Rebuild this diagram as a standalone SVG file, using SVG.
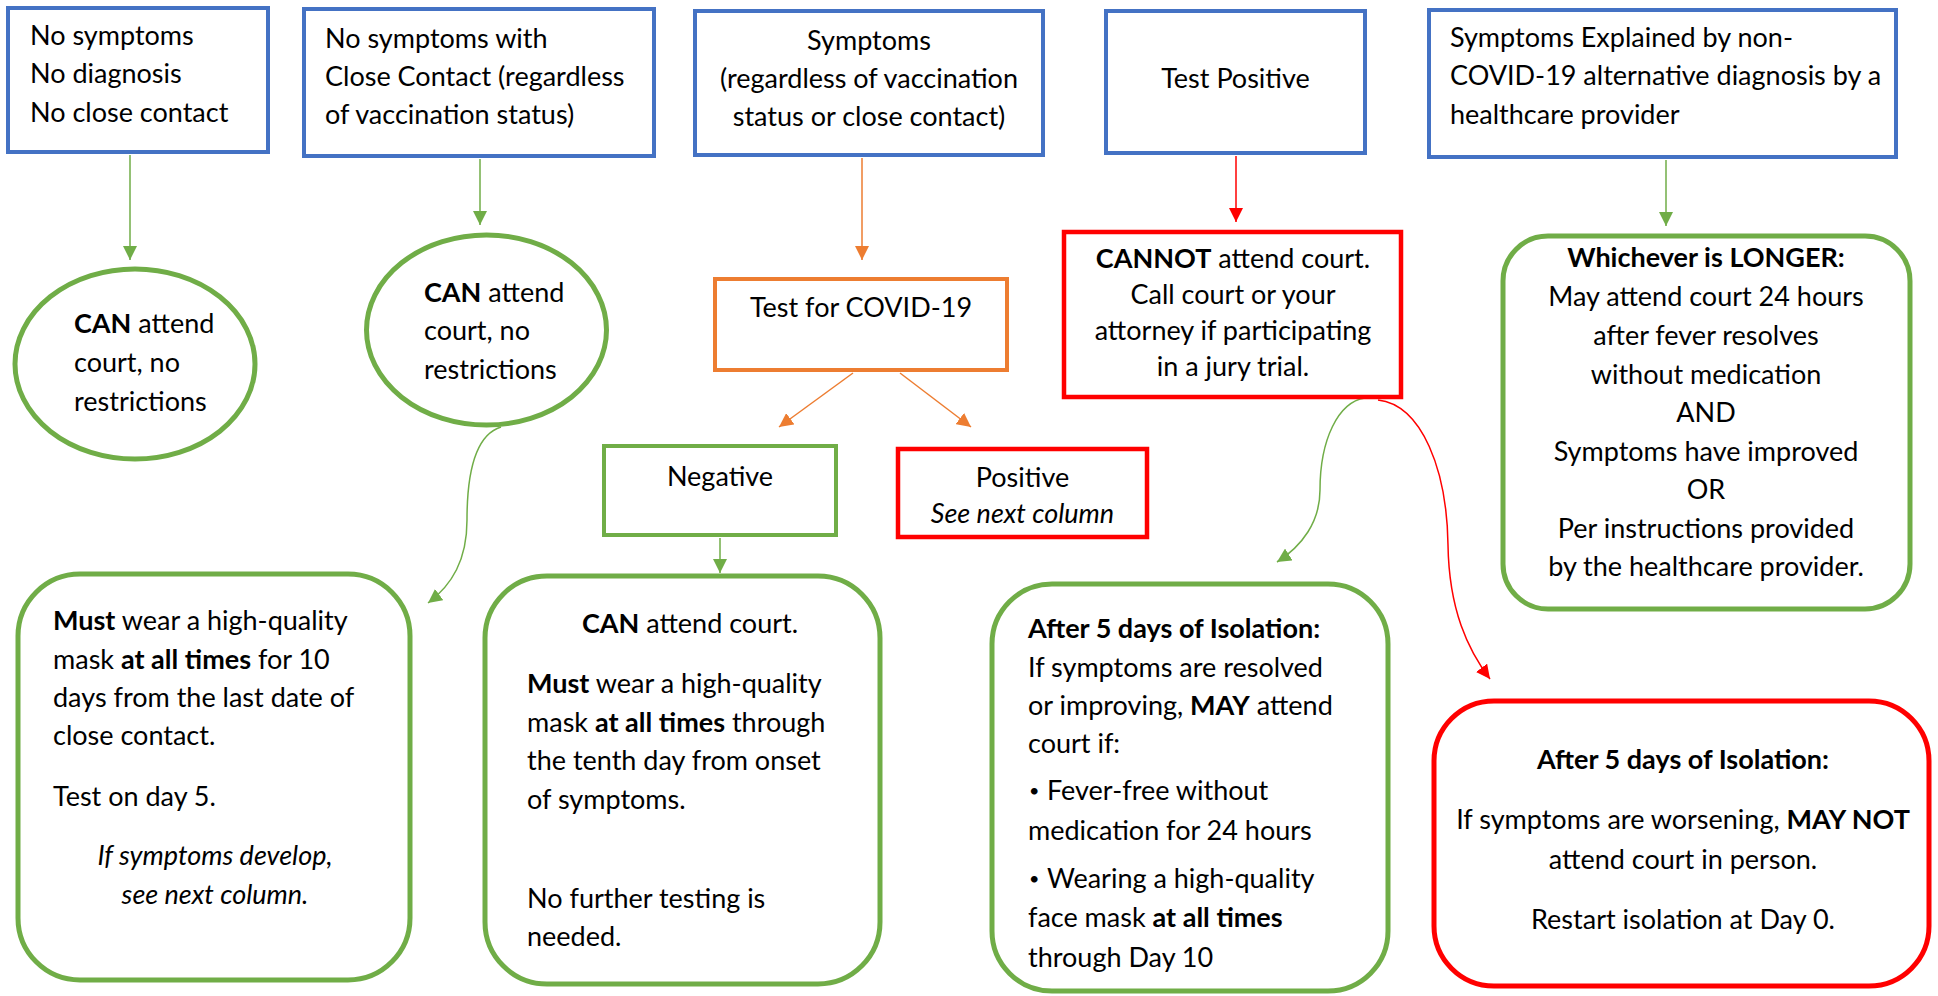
<svg xmlns="http://www.w3.org/2000/svg" width="1938" height="996" viewBox="0 0 1938 996">
<style>
text{font-family:Lato,"Liberation Sans",sans-serif;font-size:27px;fill:#000}
.c{text-anchor:middle}
.b{font-weight:bold}
.i{font-style:italic}
.dot{font-size:18px}
.blue{fill:#fff;stroke:#4472C4;stroke-width:4}
.grn{fill:#fff;stroke:#70AD47;stroke-width:5}
.grn4{fill:#fff;stroke:#70AD47;stroke-width:4}
.red{fill:#fff;stroke:#FF0000;stroke-width:5}
.org{fill:#fff;stroke:#ED7D31;stroke-width:4}
.lg{fill:none;stroke:#70AD47;stroke-width:1.5}
.lr{fill:none;stroke:#FF0000;stroke-width:1.5}
.lo{fill:none;stroke:#ED7D31;stroke-width:1.5}
</style>
<defs>
<marker id="ag" viewBox="0 0 14 14" refX="14" refY="7" markerWidth="14" markerHeight="14" markerUnits="userSpaceOnUse" orient="auto"><path d="M0,0L14,7L0,14z" fill="#70AD47"/></marker>
<marker id="ar" viewBox="0 0 14 14" refX="14" refY="7" markerWidth="14" markerHeight="14" markerUnits="userSpaceOnUse" orient="auto"><path d="M0,0L14,7L0,14z" fill="#FF0000"/></marker>
<marker id="ao" viewBox="0 0 14 14" refX="14" refY="7" markerWidth="14" markerHeight="14" markerUnits="userSpaceOnUse" orient="auto"><path d="M0,0L14,7L0,14z" fill="#ED7D31"/></marker>
</defs>
<rect width="1938" height="996" fill="#fff"/>

<g id="connectors">
<line class="lg" x1="130" y1="155" x2="130" y2="260" marker-end="url(#ag)"/>
<line class="lg" x1="480" y1="159" x2="480" y2="225" marker-end="url(#ag)"/>
<line class="lo" x1="862" y1="158" x2="862" y2="260" marker-end="url(#ao)"/>
<line class="lr" x1="1236" y1="156" x2="1236" y2="222" marker-end="url(#ar)"/>
<line class="lg" x1="1666" y1="160" x2="1666" y2="226" marker-end="url(#ag)"/>
<line class="lo" x1="853" y1="373" x2="779" y2="427" marker-end="url(#ao)"/>
<line class="lo" x1="900" y1="373" x2="971" y2="427" marker-end="url(#ao)"/>
<line class="lg" x1="720" y1="538" x2="720" y2="573" marker-end="url(#ag)"/>
<path class="lg" d="M501,427 C475,435 467,475 467,520 C467,560 452,585 428,603" marker-end="url(#ag)"/>
<path class="lg" d="M1365,398 C1338,402 1320,440 1320,490 C1320,522 1302,546 1277,562" marker-end="url(#ag)"/>
<path class="lr" d="M1378,400 C1422,405 1447,470 1448,545 C1449,610 1468,650 1490,679" marker-end="url(#ar)"/>
</g>

<g id="n1">
<rect class="blue" x="8" y="8" width="260" height="144"/>
<text x="30" y="45">No symptoms</text>
<text x="30" y="83">No diagnosis</text>
<text x="30" y="122">No close contact</text>
</g>
<g id="n2">
<rect class="blue" x="304" y="9" width="350" height="147"/>
<text x="325" y="48">No symptoms with</text>
<text x="325" y="86">Close Contact (regardless</text>
<text x="325" y="124">of vaccination status)</text>
</g>
<g id="n3">
<rect class="blue" x="695" y="11" width="348" height="144"/>
<text class="c" x="869" y="50">Symptoms</text>
<text class="c" x="869" y="88">(regardless of vaccination</text>
<text class="c" x="869" y="126">status or close contact)</text>
</g>
<g id="n4">
<rect class="blue" x="1106" y="11" width="259" height="142"/>
<text class="c" x="1235.5" y="88">Test Positive</text>
</g>
<g id="n5">
<rect class="blue" x="1429" y="10" width="467" height="147"/>
<text x="1450" y="47">Symptoms Explained by non-</text>
<text x="1450" y="85">COVID-19 alternative diagnosis by a</text>
<text x="1450" y="124">healthcare provider</text>
</g>

<g id="c1">
<ellipse class="grn" cx="135" cy="364" rx="120" ry="95"/>
<text x="74" y="333"><tspan class="b">CAN</tspan> attend</text>
<text x="74" y="372">court, no</text>
<text x="74" y="411">restrictions</text>
</g>
<g id="c2">
<ellipse class="grn" cx="486.5" cy="330" rx="120" ry="95"/>
<text x="424" y="302"><tspan class="b">CAN</tspan> attend</text>
<text x="424" y="340">court, no</text>
<text x="424" y="379">restrictions</text>
</g>

<g id="test">
<rect class="org" x="715" y="279" width="292" height="91"/>
<text class="c" x="861" y="317">Test for COVID-19</text>
</g>
<g id="cannot">
<rect class="red" x="1064" y="232" width="337" height="165" style="stroke-width:4.5"/>
<text class="c" x="1233" y="268"><tspan class="b">CANNOT</tspan> attend court.</text>
<text class="c" x="1233" y="304">Call court or your</text>
<text class="c" x="1233" y="340">attorney if participating</text>
<text class="c" x="1233" y="376">in a jury trial.</text>
</g>
<g id="neg">
<rect class="grn4" x="604" y="446" width="232" height="89"/>
<text class="c" x="720" y="486">Negative</text>
</g>
<g id="pos">
<rect class="red" x="898" y="449" width="249" height="88" style="stroke-width:4.5"/>
<text class="c" x="1022.5" y="487">Positive</text>
<text class="c i" x="1022.5" y="523">See next column</text>
</g>

<g id="longer">
<rect class="grn" x="1503" y="236" width="407" height="373" rx="45"/>
<text class="c" x="1706" y="267"><tspan class="b">Whichever is LONGER:</tspan></text>
<text class="c" x="1706" y="306">May attend court 24 hours</text>
<text class="c" x="1706" y="345">after fever resolves</text>
<text class="c" x="1706" y="384">without medication</text>
<text class="c" x="1706" y="422">AND</text>
<text class="c" x="1706" y="461">Symptoms have improved</text>
<text class="c" x="1706" y="499">OR</text>
<text class="c" x="1706" y="538">Per instructions provided</text>
<text class="c" x="1706" y="576">by the healthcare provider.</text>
</g>

<g id="must">
<rect class="grn" x="18" y="574" width="392" height="406" rx="62"/>
<text x="53" y="630"><tspan class="b">Must</tspan> wear a high-quality</text>
<text x="53" y="669">mask <tspan class="b">at all times</tspan> for 10</text>
<text x="53" y="707">days from the last date of</text>
<text x="53" y="745">close contact.</text>
<text x="53" y="806">Test on day 5.</text>
<text class="c i" x="215" y="865">If symptoms develop,</text>
<text class="c i" x="215" y="904">see next column.</text>
</g>

<g id="canattend">
<rect class="grn" x="485" y="576" width="395" height="408" rx="62"/>
<text class="c" x="690" y="633"><tspan class="b">CAN</tspan> attend court.</text>
<text x="527" y="693"><tspan class="b">Must</tspan> wear a high-quality</text>
<text x="527" y="732">mask <tspan class="b">at all times</tspan> through</text>
<text x="527" y="770">the tenth day from onset</text>
<text x="527" y="809">of symptoms.</text>
<text x="527" y="908">No further testing is</text>
<text x="527" y="946">needed.</text>
</g>

<g id="after5">
<rect class="grn" x="992" y="584" width="396" height="407" rx="60"/>
<text x="1028" y="638" class="b">After 5 days of Isolation:</text>
<text x="1028" y="677">If symptoms are resolved</text>
<text x="1028" y="715">or improving, <tspan class="b">MAY</tspan> attend</text>
<text x="1028" y="753">court if:</text>
<text class="dot" x="1029" y="797">•</text>
<text x="1047" y="800">Fever-free without</text>
<text x="1028" y="840">medication for 24 hours</text>
<text class="dot" x="1029" y="885">•</text>
<text x="1047" y="888">Wearing a high-quality</text>
<text x="1028" y="927">face mask <tspan class="b">at all times</tspan></text>
<text x="1028" y="967">through Day 10</text>
</g>

<g id="worse">
<rect class="red" x="1434" y="701" width="495" height="285" rx="60"/>
<text class="c b" x="1683" y="769">After 5 days of Isolation:</text>
<text class="c" x="1683" y="829">If symptoms are worsening, <tspan class="b">MAY NOT</tspan></text>
<text class="c" x="1683" y="869">attend court in person.</text>
<text class="c" x="1683" y="929">Restart isolation at Day 0.</text>
</g>
</svg>
